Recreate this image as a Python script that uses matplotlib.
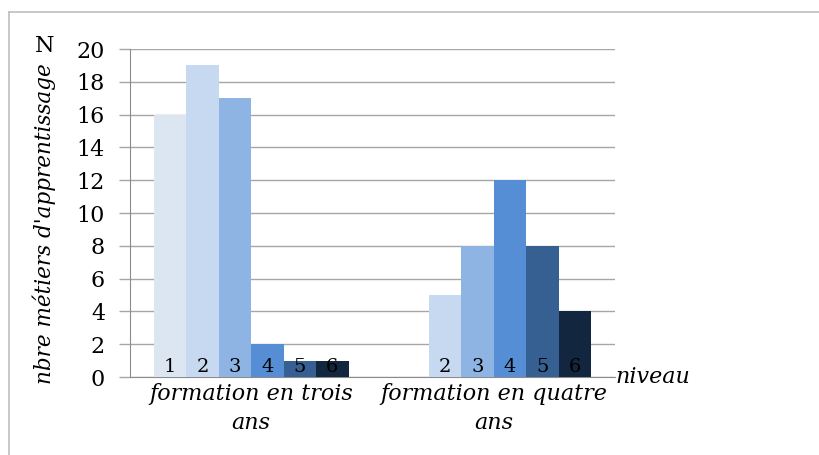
import matplotlib
matplotlib.use('Agg')
import matplotlib.pyplot as plt
from matplotlib.lines import Line2D
import numpy as np

categories = ['formation en trois\nans', 'formation en quatre\nans']
niveaux = ['1', '2', '3', '4', '5', '6']
# number of trades per level, one list per group
trois_ans = [16, 19, 17, 2, 1, 1]
quatre_ans = [0, 5, 8, 12, 8, 4]
colors = ['#DCE6F2', '#C6D9F1', '#8EB4E3', '#558ED5', '#376092', '#13263F']
yticks = [0, 2, 4, 6, 8, 10, 12, 14, 16, 18, 20]

plt.rcParams['font.family'] = ['DejaVu Serif']

W, H = 819, 455
fig = plt.figure(figsize=(W / 100, H / 100), dpi=100)
ax = fig.add_axes([130 / W, 1 - 377 / H, (615 - 130) / W, (377 - 49) / H])

# outer chart border (top and left only visible)
fig.add_artist(Line2D([9 / W, 9 / W], [0, 1 - 12 / H], color='#BFBFBF', lw=1.2, transform=fig.transFigure))
fig.add_artist(Line2D([9 / W, 1.01], [1 - 12 / H, 1 - 12 / H], color='#BFBFBF', lw=1.2, transform=fig.transFigure))

data = np.array([trois_ans, quatre_ans])
x = np.arange(len(categories))
n = len(niveaux)
width = 0.1337
for i in range(n):
    xs = x + (i - (n - 1) / 2) * width
    vals = data[:, i]
    ax.bar(xs, vals, width=width, color=colors[i], zorder=3)
    for xv, v in zip(xs, vals):
        if v > 0:
            ax.text(xv, 0.3, niveaux[i], ha='center', va='baseline', fontsize=14,
                    color='black', zorder=4)

ax.set_xlim(-0.5, 1.5)
ax.set_ylim(0, 20)
ax.set_yticks(yticks)
ax.set_yticklabels([str(t) for t in yticks], fontsize=16)
ax.yaxis.grid(True, color='#A6A6A6', lw=1.0, zorder=0)
ax.set_axisbelow(True)

ax.set_xticks(x)
ax.set_xticklabels(categories, fontsize=16, style='italic', linespacing=1.45)
ax.tick_params(axis='x', length=0, pad=4)
ax.tick_params(axis='y', length=8, width=1.0, color='#A6A6A6', pad=10)

for s in ['top', 'right']:
    ax.spines[s].set_visible(False)
ax.spines['left'].set_color('#8C8C8C')
ax.spines['bottom'].set_color('#8C8C8C')

ax.text(1.0, 0, 'niveau', transform=ax.transAxes, ha='left', va='center',
        fontsize=16, style='italic')

fig.text(44 / W, 1 - 224 / H, "nbre métiers d'apprentissage", rotation=90,
         ha='center', va='center', fontsize=15.5, style='italic')
fig.text(45 / W, 1 - 46 / H, 'N', ha='center', va='center', fontsize=16)

fig.savefig('out.png', dpi=100)
